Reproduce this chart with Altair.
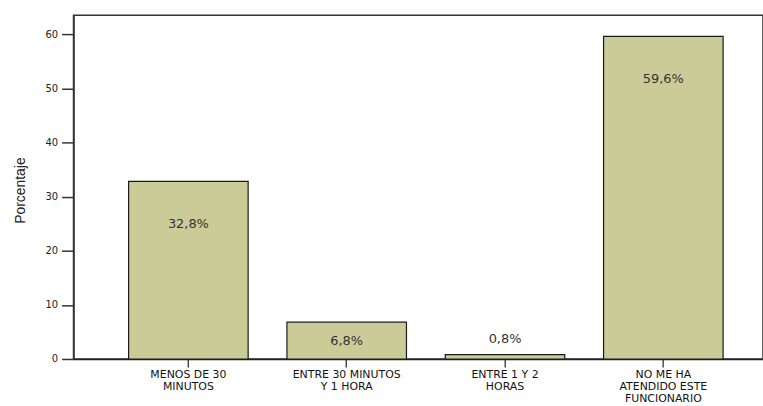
import altair as alt
import pandas as pd

categories = [
    "MENOS DE 30\nMINUTOS",
    "ENTRE 30 MINUTOS\nY 1 HORA",
    "ENTRE 1 Y 2\nHORAS",
    "NO ME HA\nATENDIDO ESTE\nFUNCIONARIO",
]
values = [32.8, 6.8, 0.8, 59.6]

df = pd.DataFrame({"cat": categories, "v": values})

x_enc = alt.X(
    "cat:N",
    sort=categories,
    title=None,
    scale=alt.Scale(paddingInner=0.245, paddingOuter=0.3, align=0.58, round=False),
    axis=alt.Axis(
        labelAngle=0,
        labelExpr="split(datum.label, '\\n')",
        labelFont="DejaVu Sans",
        labelFontSize=11,
        labelColor="#111111",
        labelLineHeight=12,
        labelPadding=2,
        tickSize=8,
        tickColor="#222222",
        domainColor="#222222",
        domainWidth=1.5,
        tickWidth=1.2,
        grid=False,
    ),
)

y_scale = alt.Scale(domain=[0, 63.5], nice=False)

bars = alt.Chart(df).mark_bar(
    color="#CBCB98", stroke="#1a1a1a", strokeWidth=1.2
).encode(
    x=x_enc,
    y=alt.Y(
        "v:Q",
        scale=y_scale,
        title="Porcentaje",
        axis=alt.Axis(
            values=[0, 10, 20, 30, 40, 50, 60],
            labelFont="DejaVu Sans",
            labelFontSize=10,
            labelColor="#222222",
            tickSize=12,
            tickWidth=1.5,
            tickColor="#333333",
            domainColor="#333333",
            domainWidth=1.5,
            labelPadding=4,
            grid=False,
            titleFont="Liberation Sans",
            titleFontSize=14,
            titleFontWeight="normal",
            titleColor="#222222",
            titleX=-53,
            titleY=176,
            titleAngle=-90,
            titleBaseline="middle",
            titleAlign="center",
        ),
    ),
)

labels = alt.Chart(df).transform_calculate(
    ly="datum.v > 10 ? datum.v - 7.8 : (datum.v > 2 ? datum.v / 2 : datum.v + 2.8)",
    txt="replace(format(datum.v, '.1f'), '.', ',') + '%'",
).mark_text(
    font="DejaVu Sans", fontSize=13, color="#333333", baseline="middle"
).encode(
    x=alt.X("cat:N", sort=categories),
    y=alt.Y("ly:Q", scale=y_scale),
    text="txt:N",
)

chart = (
    alt.layer(bars, labels)
    .properties(
        width=694,
        height=346,
        autosize=alt.AutoSizeParams(type="none"),
        padding={"left": 74, "top": 14, "right": 0, "bottom": 46},
        background="white",
    )
    .configure_view(stroke="#333333", strokeWidth=1.5)
)

chart.save("out.html", embed_options={"renderer": "svg", "actions": False})
